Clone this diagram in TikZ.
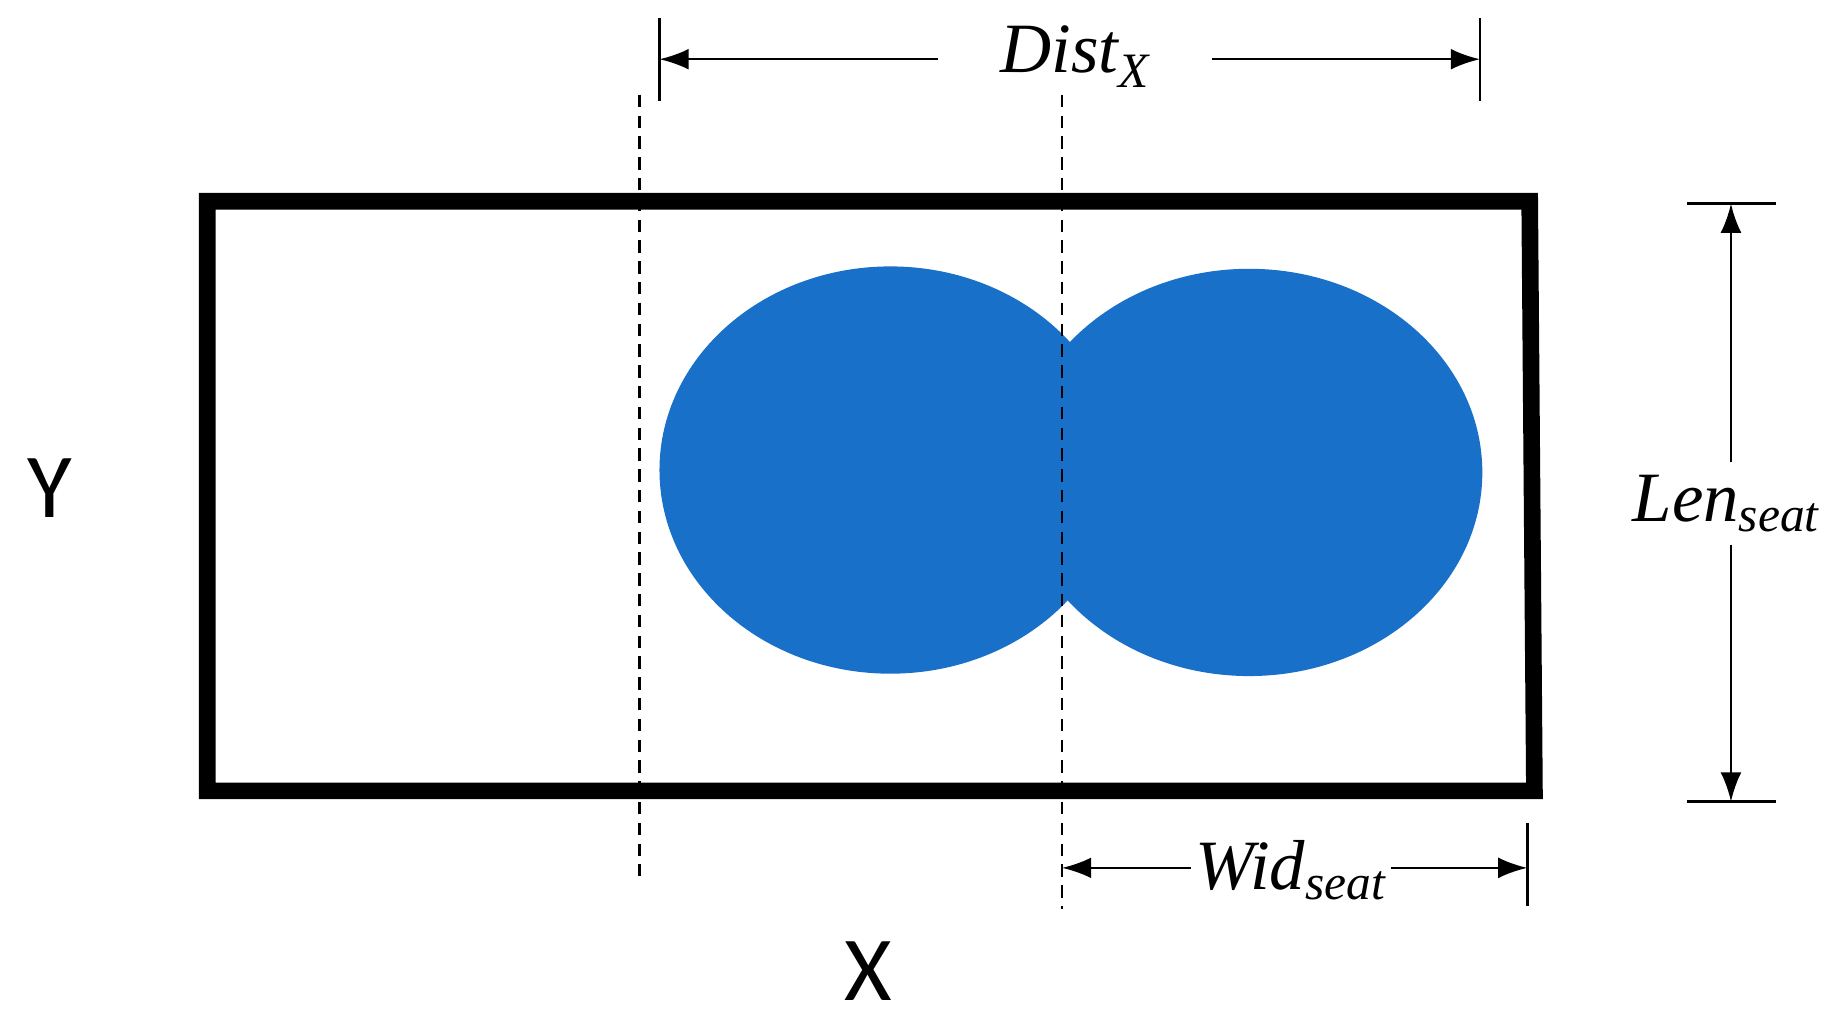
\documentclass[tikz,border=0pt]{standalone}
\usepackage{fontspec}
\setmainfont{Liberation Serif}
\newfontfamily\axfont{Carlito}
\begin{document}
\begin{tikzpicture}[x=0.02cm,y=-0.02cm,
  dim/.style={line width=1.2pt,-{Latex[length=14pt,width=10pt]}},
  tick/.style={line width=1.2pt},
  dsh/.style={line width=1.3pt,dash pattern=on 6pt off 4pt},
  lab/.style={font=\fontsize{34}{40}\selectfont\itshape},
  axl/.style={font=\axfont\fontsize{44}{50}\selectfont}]
\usetikzlibrary{arrows.meta}
\useasboundingbox (0,0) rectangle (1560,867);
\definecolor{seat}{HTML}{1870C8}
\fill[seat] (752,397) ellipse [x radius=195, y radius=172];
\fill[seat] (1055,399) ellipse [x radius=197, y radius=172];
\draw[line width=8pt] (175,170) -- (1292,170) -- (1296,668) -- (175,668) -- cycle;
\draw[dsh] (540,80) -- (540,740);
\draw[dsh] (897,80) -- (897,768);
% Dist
\coordinate (dl) at (557,50); \coordinate (dr) at (1250,50);
\draw[tick] (557,15) -- (557,85); \draw[tick] (1250,15) -- (1250,85);
\node[lab,inner xsep=30pt] (dist) at (908,48) {Dist\textsubscript{X}};
\draw[dim] (dist.west |- dl) -- (dl);
\draw[dim] (dist.east |- dr) -- (dr);
% Len
\coordinate (lt) at (1462,172); \coordinate (lb) at (1462,677);
\draw[tick] (1425,172) -- (1500,172); \draw[tick] (1425,677) -- (1500,677);
\node[lab,inner sep=6pt] (len) at (1458,425) {Len\textsubscript{seat}};
\draw[dim] (lt |- len.north) -- (lt);
\draw[dim] (lb |- len.south) -- (lb);
% Wid
\coordinate (wl) at (897,733); \coordinate (wr) at (1290,733);
\draw[tick] (1290,695) -- (1290,765);
\node[lab,inner sep=2pt] (wid) at (1090,735) {Wid\textsubscript{seat}};
\draw[dim] (wid.west |- wl) -- (wl);
\draw[dim] (wid.east |- wr) -- (wr);
\node[axl] (Y) at (42,412) {Y};
\node[axl] (X) at (733,820) {X};
\end{tikzpicture}
\end{document}
